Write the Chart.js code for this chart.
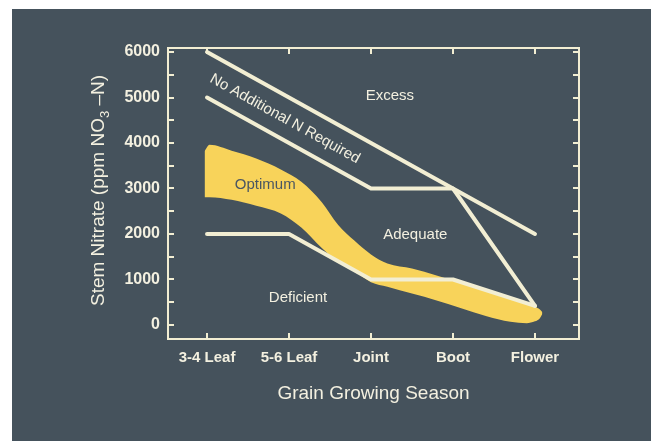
<!DOCTYPE html>
<html><head><meta charset="utf-8">
<script src="https://cdn.jsdelivr.net/npm/chart.js@4/dist/chart.umd.min.js"></script>
<style>
html,body{margin:0;padding:0;background:#ffffff;width:655px;height:441px;overflow:hidden}
#panel{position:absolute;left:12px;top:9px;width:639px;height:432px;background:#45525c}
canvas{display:block}
</style></head><body>
<div id="panel"><canvas id="c" width="639" height="432"></canvas></div>
<script>
// ---- data ----
const categories = ['3-4 Leaf', '5-6 Leaf', 'Joint', 'Boot', 'Flower'];
const excessLine = [6000, 5000, 4000, 3000, 2000];
const noAddNLine = [5000, 4000, 3000, 3000, 420];
const deficientLine = [2000, 2000, 1000, 1000, 420];
const bandX      = [-0.03, 0.03, 0.3, 0.6, 0.9, 1.15, 1.4, 1.6, 1.8, 2.0, 2.2, 2.5, 2.8, 3.1, 3.4, 3.7, 3.9, 4.0, 4.06, 4.09];
const bandTop    = [3820, 3960, 3830, 3660, 3420, 3150, 2700, 2200, 1850, 1550, 1350, 1240, 1090, 920, 745, 575, 460, 400, 340, 280];
const bandBottom = [2810, 2810, 2750, 2620, 2450, 2140, 1690, 1380, 1180, 940, 840, 690, 540, 370, 200, 70, 40, 80, 150, 240];
const yTickValues = [0, 500, 1000, 1500, 2000, 2500, 3000, 3500, 4000, 4500, 5000, 5500, 6000];
const yLabelValues = [0, 1000, 2000, 3000, 4000, 5000, 6000];
const xTickValues = [0, 1, 2, 3, 4];
const regionLabels = ['Excess', 'Adequate', 'Deficient', 'Optimum', 'No Additional N Required'];

const CREAM = '#f2eed3';
const TEXT = '#f3f0e0';
const YELLOW = '#f8d35a';

const toPts = arr => arr.map((v, i) => ({x: i, y: v}));
const bandPts = arr => arr.map((v, i) => ({x: bandX[i], y: v}));

const labelPlugin = {
  id: 'regionText',
  afterDatasetsDraw(chart) {
    const {ctx, scales: {x, y}} = chart;
    const spots = [
      {t: regionLabels[0], cx: 2.23, cy: 5030, color: TEXT},
      {t: regionLabels[1], cx: 2.54, cy: 1980, color: TEXT},
      {t: regionLabels[2], cx: 1.11, cy: 590, color: TEXT},
      {t: regionLabels[3], cx: 0.71, cy: 3080, color: '#4a5662'}
    ];
    ctx.save();
    ctx.font = '15px "Liberation Sans", Arial, sans-serif';
    ctx.textAlign = 'center';
    ctx.textBaseline = 'middle';
    spots.forEach(s => {
      ctx.fillStyle = s.color;
      ctx.fillText(s.t, x.getPixelForValue(s.cx), y.getPixelForValue(s.cy));
    });
    const ang = Math.atan2(y.getPixelForValue(excessLine[4]) - y.getPixelForValue(excessLine[0]),
                           x.getPixelForValue(4) - x.getPixelForValue(0));
    ctx.translate(x.getPixelForValue(0.95), y.getPixelForValue(4530));
    ctx.rotate(ang);
    ctx.fillStyle = TEXT;
    ctx.fillText(regionLabels[4], 0, 0);
    ctx.restore();
  }
};

const yTitlePlugin = {
  id: 'yTitle',
  afterDraw(chart) {
    const {ctx} = chart;
    const parts = [['Stem Nitrate (ppm NO', 19, 0], ['3', 13, 5], [' \u2013N)', 19, 0]];
    ctx.save();
    ctx.fillStyle = TEXT;
    ctx.textBaseline = 'alphabetic';
    ctx.textAlign = 'left';
    let total = 0;
    parts.forEach(p => { ctx.font = p[1] + 'px "Liberation Sans", Arial, sans-serif'; total += ctx.measureText(p[0]).width; });
    const cy = (chart.chartArea.top + chart.scales.y.getPixelForValue(0)) / 2 + 4;
    ctx.translate(85, cy);
    ctx.rotate(-Math.PI / 2);
    let xx = -total / 2;
    parts.forEach(p => {
      ctx.font = p[1] + 'px "Liberation Sans", Arial, sans-serif';
      ctx.fillText(p[0], xx, 7 + p[2]);
      xx += ctx.measureText(p[0]).width;
    });
    ctx.restore();
  }
};

const gridOpts = {drawOnChartArea: false, drawTicks: true, tickLength: -6, color: CREAM, lineWidth: 2};
const borderOpts = {display: true, color: CREAM, width: 2};
const X_MIN = -0.476, X_MAX = 4.537, Y_MIN = -308, Y_MAX = 6088;
const setYTicks = s => { s.ticks = yTickValues.map(v => ({value: v})); };
const setXTicks = s => { s.ticks = xTickValues.map(v => ({value: v})); };
const xTickFont = {size: 15, weight: 'bold', family: '"Liberation Sans", Arial, sans-serif'};
const yTickFont = {size: 16, weight: 'bold', family: '"Liberation Sans", Arial, sans-serif'};

new Chart(document.getElementById('c'), {
  type: 'line',
  data: {
    datasets: [
      {data: toPts(excessLine), borderColor: CREAM, borderWidth: 4, pointRadius: 0, fill: false, borderCapStyle: 'round', borderJoinStyle: 'round'},
      {data: toPts(noAddNLine), borderColor: CREAM, borderWidth: 4, pointRadius: 0, fill: false, borderCapStyle: 'round', borderJoinStyle: 'round'},
      {data: toPts(deficientLine), borderColor: CREAM, borderWidth: 4, pointRadius: 0, fill: false, borderCapStyle: 'round', borderJoinStyle: 'round'},
      {data: bandPts(bandTop), borderColor: 'rgba(0,0,0,0)', borderWidth: 0, pointRadius: 0, fill: '+1', backgroundColor: YELLOW, cubicInterpolationMode: 'monotone'},
      {data: bandPts(bandBottom), borderColor: 'rgba(0,0,0,0)', borderWidth: 0, pointRadius: 0, fill: false, cubicInterpolationMode: 'monotone'}
    ]
  },
  options: {
    responsive: false,
    animation: false,
    devicePixelRatio: 1,
    events: [],
    layout: {padding: 0},
    plugins: {legend: {display: false}, tooltip: {enabled: false}},
    scales: {
      x: {
        type: 'linear', position: 'bottom', min: X_MIN, max: X_MAX,
        grid: gridOpts, border: borderOpts,
        afterBuildTicks: setXTicks,
        ticks: {padding: 16, color: TEXT, maxRotation: 0, autoSkip: false, font: xTickFont,
                callback: v => categories[v] !== undefined ? categories[v] : ''},
        title: {display: true, text: 'Grain Growing Season', color: TEXT,
                font: {size: 19, family: '"Liberation Sans", Arial, sans-serif'}, padding: {top: 0, bottom: 36}},
        afterFit: s => { s.height = 102; }
      },
      x2: {
        type: 'linear', position: 'top', min: X_MIN, max: X_MAX,
        grid: gridOpts, border: borderOpts,
        afterBuildTicks: setXTicks,
        ticks: {display: false},
        afterFit: s => { s.height = 39; }
      },
      y: {
        type: 'linear', position: 'left', min: Y_MIN, max: Y_MAX,
        grid: gridOpts, border: borderOpts,
        afterBuildTicks: setYTicks,
        ticks: {padding: 14, color: TEXT, autoSkip: false, font: yTickFont,
                callback: v => (yLabelValues.includes(v) ? String(v) : '')},
        afterFit: s => { s.width = 156; }
      },
      y2: {
        type: 'linear', position: 'right', min: Y_MIN, max: Y_MAX,
        grid: gridOpts, border: borderOpts,
        afterBuildTicks: setYTicks,
        ticks: {display: false},
        afterFit: s => { s.width = 72; }
      }
    }
  },
  plugins: [labelPlugin, yTitlePlugin]
});
</script>
</body></html>
